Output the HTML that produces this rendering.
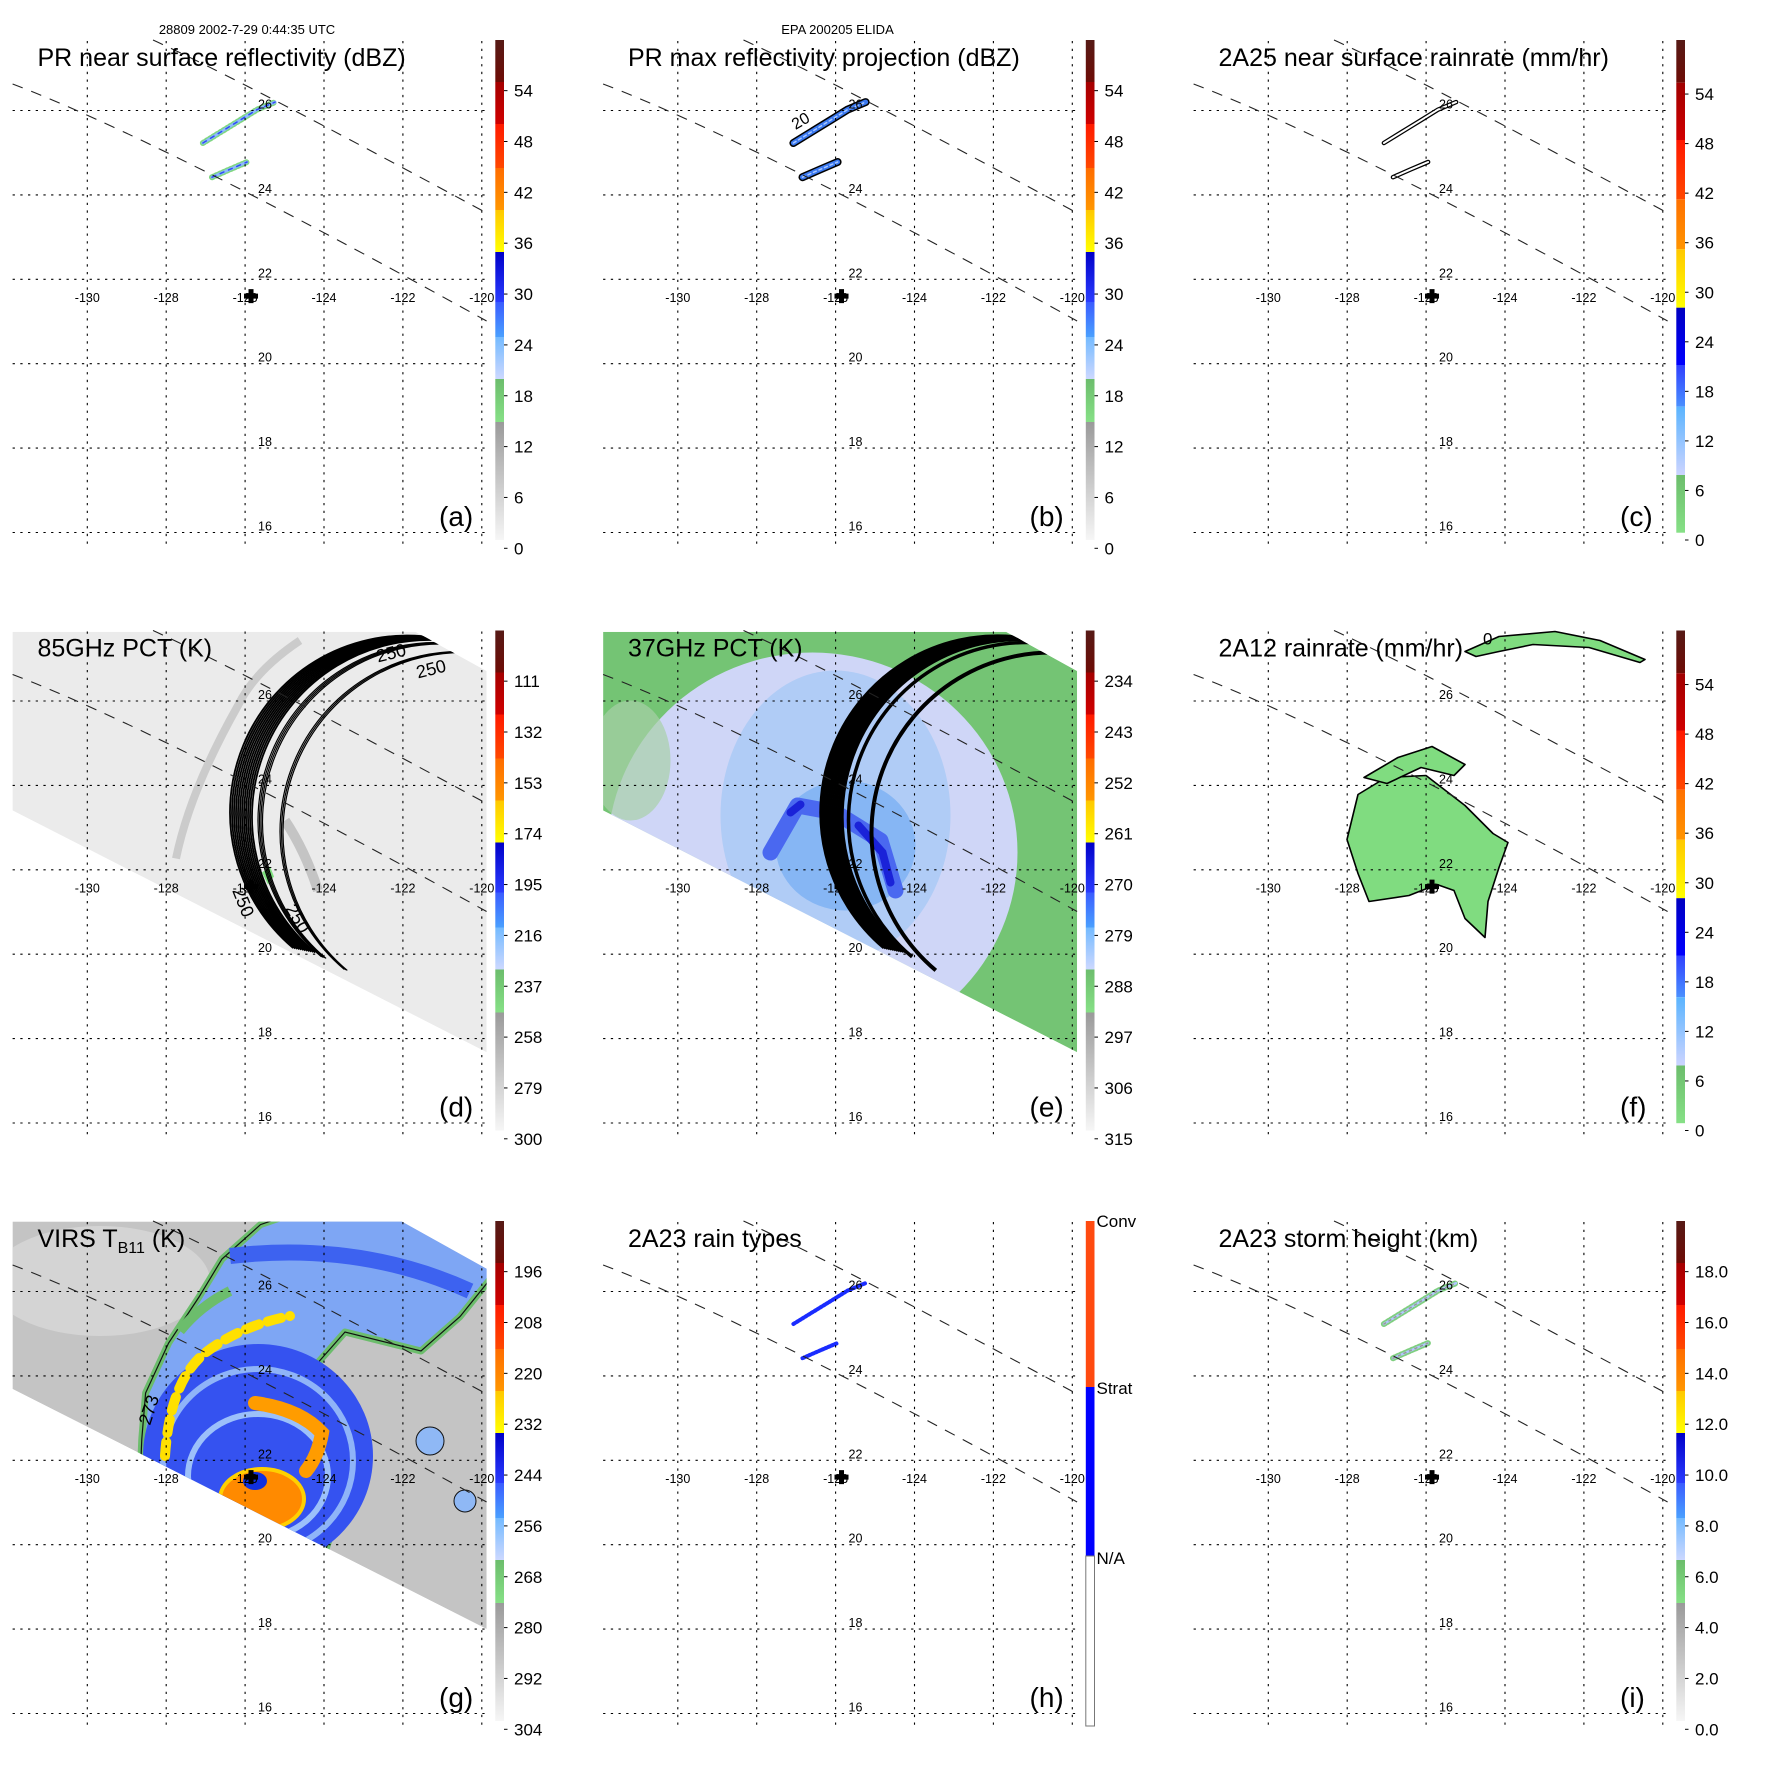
<!DOCTYPE html>
<html><head><meta charset="utf-8"><title>TRMM Elida 9-panel</title>
<style>html,body{margin:0;padding:0;background:#fff;}svg{display:block;}</style></head>
<body>
<svg id="fig" xmlns="http://www.w3.org/2000/svg" width="1771" height="1771" viewBox="0 0 1771 1771" font-family="'Liberation Sans', Arial, sans-serif">
<defs>
<clipPath id="clipDE" clipPathUnits="userSpaceOnUse"><polygon points="12.6,41.4 415.7,41.4 486.6,80.5 486.6,461.7 12.6,220"/></clipPath>
<clipPath id="clipG" clipPathUnits="userSpaceOnUse"><polygon points="12.6,40.6 402,40.6 486.6,87.7 486.6,448 12.6,208"/></clipPath>
</defs>
<rect x="0" y="0" width="1771" height="1771" fill="#fff"/>
<text x="247" y="34" font-size="13" text-anchor="middle">28809 2002-7-29 0:44:35 UTC</text>
<text x="837.5" y="34" font-size="13" text-anchor="middle">EPA 200205 ELIDA</text>

<g id="pa" transform="translate(0,0)">
 <g id="pa-img"></g>
</g>
<g id="pb" transform="translate(590.5,0)">
 <g id="pb-img"></g>
</g>
<g id="pc" transform="translate(1181,0)">
 <g id="pc-img"></g>
</g>
<g id="pd" transform="translate(0,590.5)">
 <g clip-path="url(#clipDE)">
  <polygon points="12.6,41.4 415.7,41.4 486.6,80.5 486.6,461.7 12.6,220" fill="#ebebeb"/>
  <path d="M176,268 Q190,200 238,115 Q255,80 300,50" fill="none" stroke="#cbcbcb" stroke-width="8"/>
  <path d="M285,230 Q305,260 318,300" fill="none" stroke="#c4c4c4" stroke-width="10"/>
  <path d="M262,282 l8,-6 l4,10 l-6,8 z" fill="#7fe07f"/>
  <g id="pd-rings"></g>
 </g>
 <text x="378" y="72" font-size="18" transform="rotate(-14 378 72)">250</text>
 <text x="418" y="88" font-size="18" transform="rotate(-14 418 88)">250</text>
 <text x="232" y="300" font-size="18" transform="rotate(68 232 300)">250</text>
 <text x="285" y="318" font-size="18" transform="rotate(60 285 318)">250</text>
</g>
<g id="pe" transform="translate(590.5,590.5)">
 <g clip-path="url(#clipDE)">
  <polygon points="12.6,41.4 415.7,41.4 486.6,80.5 486.6,461.7 12.6,220" fill="#74c474"/>
  <ellipse cx="222" cy="262" rx="205" ry="200" fill="#cfd6f7"/>
  <ellipse cx="40" cy="170" rx="40" ry="60" fill="#a8d0a8" opacity="0.7"/>
  <ellipse cx="245" cy="225" rx="115" ry="145" fill="#b0ccf6"/>
  <ellipse cx="255" cy="255" rx="70" ry="65" fill="#86b6f4"/>
  <path d="M180,262 L207,215 L245,222 L290,250 L305,300" fill="none" stroke="#4a68f0" stroke-width="16" stroke-linejoin="round" stroke-linecap="round"/>
  <path d="M200,222 L210,214 M268,235 L292,262 L300,292" fill="none" stroke="#1a22d8" stroke-width="8" stroke-linecap="round"/>
  <g id="pe-rings"></g>
 </g>
</g>
<g id="pf" transform="translate(1181,590.5)">
 <g fill="#80dc80" stroke="#000" stroke-width="1.6" stroke-linejoin="round">
  <polygon points="177,204 205,187 245,185 284,215 312,243 327,252 318,277 307,311 304,347 284,328 273,300 256,294 228,305 188,311 177,283 166,249"/>
  <polygon points="183,187 217,167 251,156 284,174 273,185 240,177 206,193"/>
  <polygon points="284,61 318,46 374,41 419,50 464,69 459,72 408,57 352,54 318,61 295,66"/>
 </g>
 <text x="302" y="54" font-size="17">0</text>
</g>
<g id="pg" transform="translate(0,1181)">
 <g clip-path="url(#clipG)">
  <polygon points="12.6,40.6 402,40.6 486.6,87.7 486.6,448 12.6,208" fill="#c4c4c4"/>
  <ellipse cx="100" cy="100" rx="110" ry="55" fill="#d4d4d4"/>
  <polygon points="141.8,258 145.6,212 168.6,162 199,116 222,78 260.5,43.6 300,30 500,30 500,86 460,135.6 421,170 345,151 318,181.6 352.5,227.5 345,281 337,335 322,380 140,300" fill="#7ea6f4" stroke="#6cbd6c" stroke-width="7" stroke-linejoin="round"/>
  <polygon points="141.8,258 145.6,212 168.6,162 199,116 222,78 260.5,43.6 300,30 500,30 500,86 460,135.6 421,170 345,151 318,181.6 352.5,227.5 345,281 337,335 322,380 140,300" fill="none" stroke="#111" stroke-width="1.2"/>
  <path d="M230,75 Q360,60 470,110" fill="none" stroke="#3d62f0" stroke-width="16"/>
  <path d="M180,150 Q200,125 230,110" fill="none" stroke="#6cbd6c" stroke-width="10"/>
  <ellipse cx="258" cy="275" rx="115" ry="112" fill="#3552f0"/>
  <ellipse cx="258" cy="280" rx="95" ry="92" fill="none" stroke="#8fb4f8" stroke-width="6"/>
  <path d="M165,275 Q170,200 205,172 Q240,145 290,135" fill="none" stroke="#ffe000" stroke-width="10" stroke-dasharray="14 9" stroke-linecap="round"/>
  <ellipse cx="258" cy="295" rx="70" ry="62" fill="none" stroke="#9cc0fa" stroke-width="6"/>
  <path d="M255,222 Q300,228 322,252 Q318,275 306,290" fill="none" stroke="#ff9c00" stroke-width="14" stroke-linecap="round"/>
  <ellipse cx="262" cy="318" rx="42" ry="30" fill="#ff8a00" stroke="#ffd000" stroke-width="4"/>
  <ellipse cx="255" cy="300" rx="12" ry="9" fill="#1030e0"/>
  <circle cx="430" cy="260" r="14" fill="#8fb8f5" stroke="#111" stroke-width="1"/>
  <circle cx="465" cy="320" r="11" fill="#8fb8f5" stroke="#111" stroke-width="1"/>
 </g>
 <text x="150" y="245" font-size="18" transform="rotate(-72 150 245)">273</text>
</g>
<g id="ph" transform="translate(590.5,1181)">
 <g id="ph-img"></g>
</g>
<g id="pi" transform="translate(1181,1181)">
 <g id="pi-img"></g>
</g>
</svg>
<script>
const lonTicks = [-130, -128, -126, -124, -122, -120];
const latTicks = [26, 24, 22, 20, 18, 16];
const cbLabelsDbz = ['0','6','12','18','24','30','36','42','48','54'];
const cbLabelsRain = ['0','6','12','18','24','30','36','42','48','54'];
const cbLabels85 = ['300','279','258','237','216','195','174','153','132','111'];
const cbLabels37 = ['315','306','297','288','279','270','261','252','243','234'];
const cbLabelsVirs = ['304','292','280','268','256','244','232','220','208','196'];
const cbLabelsHeight = ['0.0','2.0','4.0','6.0','8.0','10.0','12.0','14.0','16.0','18.0'];
const cbLabelsType = ['Conv','Strat','N/A'];
const stormCenter = [-125.85, 21.6];
const echoBandNorth = [[-127.07,25.23],[-126.6,25.5],[-126.13,25.77],[-125.7,26.02],[-125.24,26.2]];
const echoBandSouth = [[-126.84,24.42],[-126.4,24.6],[-125.95,24.78]];

const NS = 'http://www.w3.org/2000/svg';
function X(lon){ return 87.3 + (lon + 130) * 39.45; }
function Y(lat){ return 279.3 - (lat - 22) * 42.2; }
function mk(tag, parent){ const e = document.createElementNS(NS, tag); parent.appendChild(e); return e; }
function bandPath(pts){ return pts.map((p,i)=>(i?'L':'M')+X(p[0]).toFixed(1)+','+Y(p[1]).toFixed(1)).join(' '); }

const stdSegs = [[40,82,'#561a16','#6e0c06'],[82,124,'#a40000','#d00000'],[124,168,'#ff1a00','#ff4800'],[168,210,'#ff6c00','#ff9600'],[210,252,'#ffc800','#ffff00'],[252,302,'#0000c8','#2a3cff'],[302,337,'#3a5cff','#4aa0ff'],[337,379,'#74baff','#ccd8ff'],[379,422,'#6cbd6c','#86e086'],[422,540,'#9a9a9a','#f6f6f6']];
const rainSegs = [[40,82.7,'#561a16','#6e0c06'],[82.7,140,'#a00000','#d00000'],[140,199.3,'#ff1800','#ff4800'],[199.3,249.3,'#ff7000','#ff9400'],[249.3,307.7,'#ffc800','#ffff00'],[307.7,365,'#0000c0','#0000ff'],[365,406.7,'#3040ff','#4a90ff'],[406.7,475,'#5ab4ff','#ccd4ff'],[475,532.7,'#6cbd6c','#86e086']];

const defs = document.querySelector('defs');
let gid = 0;
function grad(c0, c1){
  const g = mk('linearGradient', defs); const id = 'g' + (gid++);
  g.setAttribute('id', id); g.setAttribute('x1','0'); g.setAttribute('y1','0'); g.setAttribute('x2','0'); g.setAttribute('y2','1');
  const s0 = mk('stop', g); s0.setAttribute('offset','0'); s0.setAttribute('stop-color', c0);
  const s1 = mk('stop', g); s1.setAttribute('offset','1'); s1.setAttribute('stop-color', c1);
  return id;
}

const panels = [
  {id:'pa', title:'PR near surface reflectivity (dBZ)', letter:'(a)', cb:'std', labels:cbLabelsDbz},
  {id:'pb', title:'PR max reflectivity projection (dBZ)', letter:'(b)', cb:'std', labels:cbLabelsDbz},
  {id:'pc', title:'2A25 near surface rainrate (mm/hr)', letter:'(c)', cb:'rain', labels:cbLabelsRain},
  {id:'pd', title:'85GHz PCT (K)', letter:'(d)', cb:'std', labels:cbLabels85},
  {id:'pe', title:'37GHz PCT (K)', letter:'(e)', cb:'std', labels:cbLabels37},
  {id:'pf', title:'2A12 rainrate (mm/hr)', letter:'(f)', cb:'rain', labels:cbLabelsRain},
  {id:'pg', title:'VIRS', letter:'(g)', cb:'std', labels:cbLabelsVirs},
  {id:'ph', title:'2A23 rain types', letter:'(h)', cb:'type', labels:cbLabelsType},
  {id:'pi', title:'2A23 storm height (km)', letter:'(i)', cb:'std', labels:cbLabelsHeight}
];

function drawBands(parent, styles){
  [echoBandNorth, echoBandSouth].forEach(function(band){
    styles.forEach(function(st){
      const p = mk('path', parent);
      
      
      p.setAttribute('d', bandPath(band));
      p.setAttribute('fill', 'none');
      p.setAttribute('stroke', st[0]);
      p.setAttribute('stroke-width', st[1]);
      p.setAttribute('stroke-linecap', 'round');
      if (st[2]) p.setAttribute('stroke-dasharray', st[2]);
    });
  });
}
drawBands(document.getElementById('pa-img'), [['#7fd77f',6,'1.5 2.5'],['#8cb8ff',3,'3 2'],['#3050f0',1.5,'4 5']]);
drawBands(document.getElementById('pb-img'), [['#000',8],['#3a78f0',5],['#a8c8ff',1.5,'3 3']]);
drawBands(document.getElementById('pc-img'), [['#000',4.5],['#fff',2]]);
drawBands(document.getElementById('ph-img'), [['#1a2cff',4,'2 1.5']]);
drawBands(document.getElementById('pi-img'), [['#7fcf7f',6,'2 2'],['#b0c8ff',2.5,'3 2'],['#999',1.5,'2 4']]);
(function(){
  const t = mk('text', document.getElementById('pb'));
  
  
  t.setAttribute('x','205'); t.setAttribute('y','130'); t.setAttribute('font-size','16');
  t.setAttribute('transform','rotate(-30 205 130)');
  t.textContent = '20';
})();

function arc(cx, cy, r){
  const a0 = -85 * Math.PI/180, a1 = -230 * Math.PI/180;
  return 'M' + (cx + r*Math.cos(a0)).toFixed(1) + ',' + (cy + r*Math.sin(a0)).toFixed(1) +
         ' A' + r + ',' + r + ' 0 0 0 ' + (cx + r*Math.cos(a1)).toFixed(1) + ',' + (cy + r*Math.sin(a1)).toFixed(1);
}
function drawRings(gEl, groups){
  groups.forEach(function(gr){
    for (let k = 0; k < gr.n; k++){
      const p = mk('path', gEl);
      
      
      p.setAttribute('d', arc(gr.cx + k*gr.dx, gr.cy + k*gr.dy, gr.r));
      p.setAttribute('fill', 'none');
      p.setAttribute('stroke', '#000');
      p.setAttribute('stroke-width', gr.w);
    }
  });
}
drawRings(document.getElementById('pd-rings'), [{cx:407,cy:222,r:177,n:12,dx:2,dy:0.4,w:1.8},{cx:436,cy:230,r:178,n:4,dx:1.5,dy:0.5,w:1.2},{cx:460,cy:241,r:180,n:3,dx:1.5,dy:0.5,w:1.2}]);
drawRings(document.getElementById('pe-rings'), [{cx:407,cy:222,r:177,n:12,dx:2,dy:0.4,w:2.4},{cx:436,cy:230,r:178,n:1,dx:0,dy:0,w:3.5},{cx:461,cy:242,r:180,n:1,dx:0,dy:0,w:4}]);

panels.forEach(function(P){
  const g = document.getElementById(P.id);
  latTicks.forEach(function(lat){
    const l = mk('line', g);
    
    
    l.setAttribute('x1', 12.6); l.setAttribute('x2', 486.5);
    l.setAttribute('y1', Y(lat)); l.setAttribute('y2', Y(lat));
    l.setAttribute('stroke', '#000'); l.setAttribute('stroke-width', '1.1'); l.setAttribute('stroke-dasharray', '2.3 5.4');
  });
  lonTicks.forEach(function(lon){
    const l = mk('line', g);
    
    
    l.setAttribute('x1', X(lon)); l.setAttribute('x2', X(lon));
    l.setAttribute('y1', 41); l.setAttribute('y2', 548);
    l.setAttribute('stroke', '#000'); l.setAttribute('stroke-width', '1.1'); l.setAttribute('stroke-dasharray', '2.3 5.4');
  });
  const s1 = mk('path', g);
  
  
  s1.setAttribute('d', 'M153,40 Q241,80 486.6,213');
  s1.setAttribute('fill','none'); s1.setAttribute('stroke','#222'); s1.setAttribute('stroke-width','1.1'); s1.setAttribute('stroke-dasharray','11 9');
  const s2 = mk('path', g);
  
  
  s2.setAttribute('d', 'M12.6,84 Q160,140 486.6,321');
  s2.setAttribute('fill','none'); s2.setAttribute('stroke','#222'); s2.setAttribute('stroke-width','1.1'); s2.setAttribute('stroke-dasharray','11 9');
  lonTicks.forEach(function(lon){
    const t = mk('text', g);
    
    
    t.setAttribute('x', X(lon)); t.setAttribute('y', 302); t.setAttribute('font-size', '12.5'); t.setAttribute('text-anchor', 'middle');
    t.textContent = String(lon);
  });
  latTicks.forEach(function(lat){
    const t = mk('text', g);
    
    
    t.setAttribute('x', 258); t.setAttribute('y', Y(lat) - 2); t.setAttribute('font-size', '12.5');
    t.textContent = String(lat);
  });
  const cx = X(stormCenter[0]), cy = Y(stormCenter[1]);
  const c = mk('path', g);
  
  
  c.setAttribute('d', 'M' + (cx-2.5) + ',' + (cy-7) + 'h5v4.5h4.5v5h-4.5v4.5h-5v-4.5h-4.5v-5h4.5z');
  c.setAttribute('fill', '#000');
  const tt = mk('text', g);
  
  
  tt.setAttribute('x', 37.5); tt.setAttribute('y', 66); tt.setAttribute('font-size', '25');
  if (P.id === 'pg') {
    tt.appendChild(document.createTextNode('VIRS T'));
    const sub = mk('tspan', tt); sub.setAttribute('font-size','16'); sub.setAttribute('dy','6'); sub.textContent = 'B11';
    const rest = mk('tspan', tt); rest.setAttribute('dy','-6'); rest.textContent = ' (K)';
  } else {
    tt.textContent = P.title;
  }
  const lt = mk('text', g);
  
  
  lt.setAttribute('x', 439); lt.setAttribute('y', 526); lt.setAttribute('font-size', '28');
  lt.textContent = P.letter;
  const cb = mk('g', g);
  
  
  if (P.cb === 'type') {
    const segs = [[40,206,'#ff4a10'],[206,375,'#0000ff'],[375,545,'#ffffff']];
    segs.forEach(function(s){
      const r = mk('rect', cb);
      
      
      r.setAttribute('x', 495.3); r.setAttribute('y', s[0]); r.setAttribute('width', 8.7); r.setAttribute('height', s[1]-s[0]); r.setAttribute('fill', s[2]);
    });
    const ob = mk('rect', cb);
    
    
    ob.setAttribute('x', 495.3); ob.setAttribute('y', 375); ob.setAttribute('width', 8.7); ob.setAttribute('height', 170); ob.setAttribute('fill','none'); ob.setAttribute('stroke','#777'); ob.setAttribute('stroke-width','1');
    const ly = [40, 207, 377];
    P.labels.forEach(function(lab, i){
      const t = mk('text', cb);
      
      
      t.setAttribute('x', 506); t.setAttribute('y', ly[i] + 6); t.setAttribute('font-size', '17');
      t.textContent = lab;
    });
    return;
  }
  const segs = P.cb === 'rain' ? rainSegs : stdSegs;
  segs.forEach(function(s){
    const r = mk('rect', cb);
    
    
    r.setAttribute('x', 495.3); r.setAttribute('y', s[0]); r.setAttribute('width', 8.7); r.setAttribute('height', s[1]-s[0]);
    r.setAttribute('fill', 'url(#' + grad(s[2], s[3]) + ')');
  });
  const y0 = P.cb === 'rain' ? 540 : 548.3, step = P.cb === 'rain' ? 49.55 : 50.85;
  P.labels.forEach(function(lab, i){
    const y = y0 - i * step;
    const tk = mk('line', cb);
    
    
    tk.setAttribute('x1', 504); tk.setAttribute('x2', 507.5); tk.setAttribute('y1', y); tk.setAttribute('y2', y);
    tk.setAttribute('stroke', '#000'); tk.setAttribute('stroke-width', '1');
    const t = mk('text', cb);
    
    
    t.setAttribute('x', 514); t.setAttribute('y', y + 6); t.setAttribute('font-size', '17');
    t.textContent = lab;
  });
});
</script>
</body></html>
